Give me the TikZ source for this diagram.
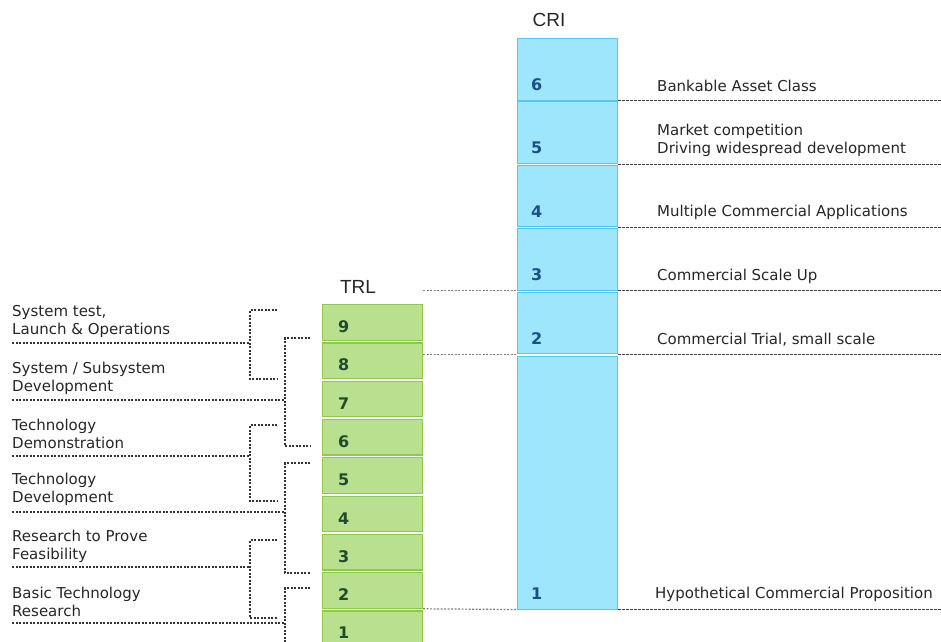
\documentclass[tikz,border=0pt]{standalone}
\usepackage{fontspec}
\setmainfont{DejaVu Sans}
\newfontfamily\headfont{Liberation Sans}
\usetikzlibrary{positioning}
\definecolor{trlfill}{HTML}{B9E08F}
\definecolor{trledge}{HTML}{8DC94B}
\definecolor{trltext}{HTML}{1F4D2B}
\definecolor{crifill}{HTML}{9EE6FC}
\definecolor{criedge}{HTML}{55C6F0}
\definecolor{critext}{HTML}{1C4E8C}

\begin{document}
\begin{tikzpicture}[x=1pt, y=-1pt,
    trlbox/.style={draw=trledge, fill=trlfill, line width=1.2pt,
        minimum width=100pt, minimum height=35.5pt, inner sep=0pt, anchor=north west},
    cribox/.style={draw=criedge, fill=crifill, line width=1pt,
        minimum width=100pt, inner sep=0pt, anchor=north west},
    boxnum/.style={font=\fontsize{16}{16}\selectfont\bfseries, anchor=west, inner sep=0pt},
    desc/.style={font=\fontsize{15}{18}\selectfont, text=black!85, anchor=base west, inner sep=0pt},
    stage/.style={font=\fontsize{15}{18}\selectfont, text=black!85, align=left, anchor=west, inner sep=0pt},
    head/.style={font=\headfont\fontsize{19}{19}\selectfont, text=black!85},
    rline/.style={black!75, line width=1pt, dash pattern=on 2.5pt off 1.5pt},
    lline/.style={black!50, line width=1.2pt, dash pattern=on 2pt off 1.5pt},
    bracket/.style={black!80, line width=1.2pt, dash pattern=on 2pt off 1.5pt}
]
\useasboundingbox (0,0) rectangle (941,641);
\clip (0,0) rectangle (941,641);
\coordinate (rend) at (941,0);

% TRL column
\node [head] (trlhead) at (358,287) {TRL};
\foreach \n in {1,...,9} {
    \node [trlbox] (trl\n) at (322, {304+(9-\n)*38.3}) {};
    \node [boxnum, text=trltext] (trln\n) at ([xshift=16pt, yshift=14pt]trl\n.south west) {\n};
}

% CRI column
\node [head] (crihead) at (549,20) {CRI};
\foreach \n/\top in {6/38, 5/101.4, 4/164.8, 3/228.2, 2/291.6}
    \node [cribox, minimum height=61.6pt] (cri\n) at (517,\top) {};
\node [cribox, minimum height=253pt] (cri1) at (517,355.5) {};
\foreach \n in {1,...,6}
    \node [boxnum, text=critext] (crin\n) at ([xshift=14pt, yshift=16pt]cri\n.south west) {\n};

% CRI descriptions
\node [desc] (crit6) at (657,91) {Bankable Asset Class};
\node [desc] (crit5a) at (657,135) {Market competition};
\node [desc] (crit5b) at (657,153) {Driving widespread development};
\node [desc] (crit4) at (657,216) {Multiple Commercial Applications};
\node [desc] (crit3) at (657,280) {Commercial Scale Up};
\node [desc] (crit2) at (657,344) {Commercial Trial, small scale};
\node [desc] (crit1) at (655,598) {Hypothetical Commercial Proposition};

\foreach \n in {1,...,6}
    \draw [rline] (cri\n.south east) -- (cri\n.south east -| rend);

% links between the two scales
\draw [lline] (trl9.north east |- cri3.south west) -- (cri3.south west);
\draw [lline] (trl8.east |- cri2.south west) -- (cri2.south west);
\draw [lline] (trl2.south east) -- (cri1.south west);

% TRL stages
\node [stage] (stage6) at (12,321) {System test,\\Launch \& Operations};
\node [stage] (stage5) at (12,378) {System / Subsystem\\Development};
\node [stage] (stage4) at (12,434) {Technology\\Demonstration};
\node [stage] (stage3) at (12,489) {Technology\\Development};
\node [stage] (stage2) at (12,546) {Research to Prove\\Feasibility};
\node [stage] (stage1) at (12,602) {Basic Technology\\Research};

\foreach \y/\x in {343/250, 400/285, 456/250, 512/285, 567/250, 623/285}
    \draw [bracket] (12,\y) -- (\x,\y);
\foreach \top/\bot in {310/379, 425/501, 540/618}
    \draw [bracket] (277,\top) -- (250,\top) -- (250,\bot) -- (277,\bot);
\foreach \top/\bot in {338/446, 463/573}
    \draw [bracket] (310,\top) -- (285,\top) -- (285,\bot) -- (310,\bot);
\draw [bracket] (310,588) -- (285,588) -- (285,660);
\end{tikzpicture}
\end{document}
